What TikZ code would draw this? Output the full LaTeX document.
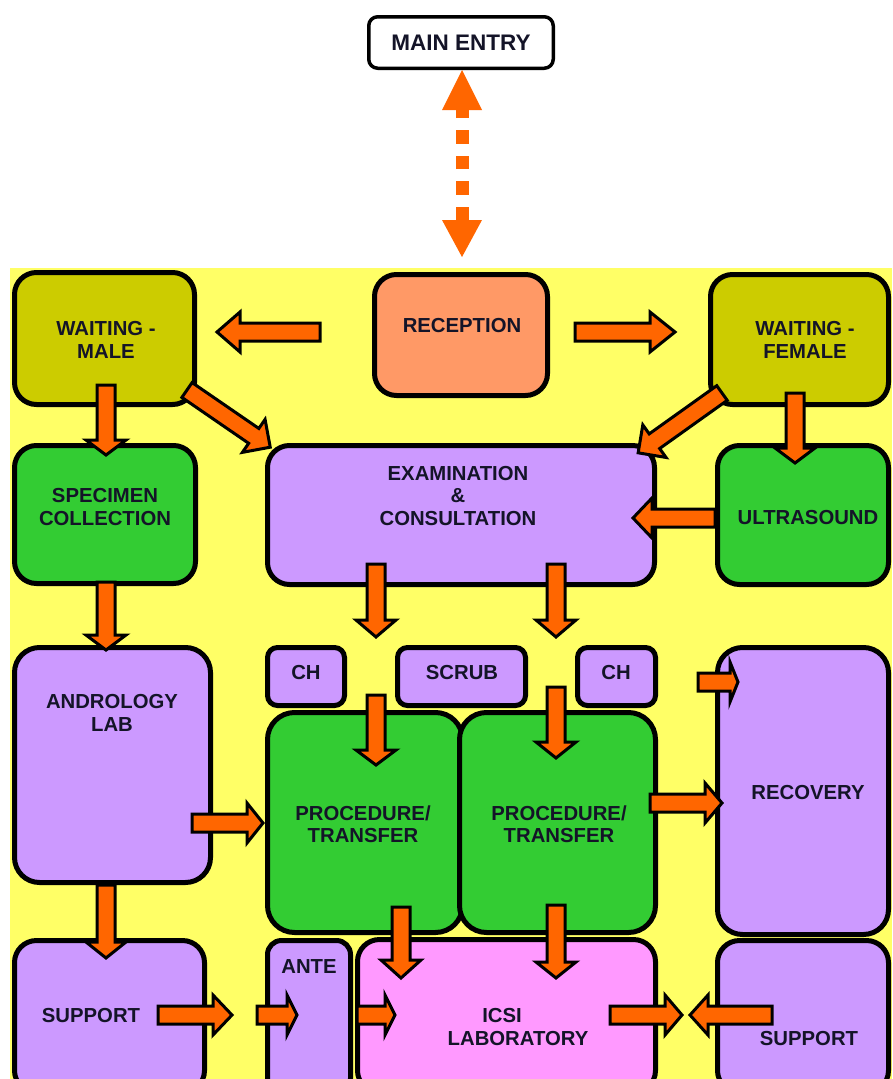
\documentclass[tikz,border=0pt]{standalone}
\usepackage{fontspec}
\setmainfont{Liberation Sans}
\definecolor{yard}{RGB}{255,255,102}
\definecolor{olive}{RGB}{204,204,0}
\definecolor{salmon}{RGB}{255,153,102}
\definecolor{grn}{RGB}{51,204,51}
\definecolor{lav}{RGB}{204,153,255}
\definecolor{pinkroom}{RGB}{255,153,255}
\definecolor{arrowor}{RGB}{255,102,0}
\definecolor{txt}{RGB}{20,20,40}
\tikzset{
  room/.style={draw=black, line width=5pt, inner sep=0pt},
  lbl/.style={font=\bfseries\fontsize{20.3}{22.5}\selectfont, align=center, text=txt, inner sep=0pt},
  blkarrow/.style={draw=black, line width=3pt, fill=arrowor, line join=miter},
  entrybox/.style={draw=black, line width=3.5pt, rounded corners=9pt, fill=white, inner sep=0pt,
     font=\bfseries\fontsize{22.5}{24}\selectfont, text=txt},
}
% \roombox[radius]{name}{fill}{x1}{y1}{x2}{y2}  (outer edges, pixel coords)
\newcommand\roombox[7][22pt]{%
  \node[room, rounded corners=#1, fill=#3, minimum width={(#6)-(#4)-5}, minimum height={(#7)-(#5)-5}]
    (#2) at ({((#4)+(#6))/2},{((#5)+(#7))/2}) {};}
% \blk{x}{y}{angle}{length}{head length}
\newcommand\blk[5]{%
  \begin{scope}[shift={(#1,#2)},rotate=#3]
    \draw[blkarrow] (0,-9) -- ({#4-#5},-9) -- ({#4-#5},-20) -- (#4,0) -- ({#4-#5},20) -- ({#4-#5},9) -- (0,9) -- cycle;
  \end{scope}}
\begin{document}
\begin{tikzpicture}[x=1pt,y=-1pt]
\useasboundingbox (0,0) rectangle (892,1079);
\clip (0,0) rectangle (892,1079);
\fill[white] (0,0) rectangle (892,1079);
\fill[yard] (10,268) rectangle (892,1079);

% main entry
\node[entrybox, minimum width=184.5pt, minimum height=51.5pt] (entry) at (461,42.5) {MAIN ENTRY};
\coordinate (gate) at (462,257);
\fill[arrowor] (442,110) -- (462,70) -- (482,110) -- cycle;
\fill[arrowor] (442,220) -- (gate) -- (482,220) -- cycle;
\draw[arrowor, line width=13pt, dash pattern=on 13.5pt off 12pt] (462,220) -- (462,110);

% rooms
\roombox{wm}{olive}{12}{270}{197}{407}
\roombox{rec}{salmon}{372}{272}{550}{398}
\roombox{wf}{olive}{708}{272}{891}{407}
\roombox{spec}{grn}{12}{443}{198}{586}
\roombox{exam}{lav}{265}{443}{657}{587}
\roombox{us}{grn}{715}{443}{891}{587}
\roombox[25pt]{andr}{lav}{12}{645}{213}{885}
\roombox[10pt]{ch1}{lav}{265}{645}{347}{708}
\roombox[10pt]{scrub}{lav}{395}{645}{528}{708}
\roombox[10pt]{ch2}{lav}{575}{645}{658}{708}
\roombox[27pt]{proc1}{grn}{265}{710}{465}{935}
\roombox[27pt]{proc2}{grn}{457}{710}{658}{935}
\roombox[25pt]{recov}{lav}{715}{645}{891}{937}
\roombox{sup1}{lav}{12}{938}{207}{1095}
\roombox[14pt]{ante}{lav}{265}{938}{353}{1095}
\roombox{icsi}{pinkroom}{355}{937}{658}{1095}
\roombox{sup2}{lav}{715}{938}{891}{1095}

% labels
\node[lbl] (t-wm) at (106,340) {WAITING -\\MALE};
\node[lbl] (t-rec) at (462,326) {RECEPTION};
\node[lbl] (t-wf) at (805,340) {WAITING -\\FEMALE};
\node[lbl] (t-spec) at (105,507) {SPECIMEN\\COLLECTION};
\node[lbl] (t-exam) at (458,496) {EXAMINATION\\\&\\CONSULTATION};
\node[lbl] (t-us) at (808,518) {ULTRASOUND};
\node[lbl] (t-andr) at (112,713) {ANDROLOGY\\LAB};
\node[lbl] (t-ch1) at (306,673) {CH};
\node[lbl] (t-scrub) at (462,673) {SCRUB};
\node[lbl] (t-ch2) at (616,673) {CH};
\node[lbl] (t-p1) at (363,824) {PROCEDURE/\\TRANSFER};
\node[lbl] (t-p2) at (559,824) {PROCEDURE/\\TRANSFER};
\node[lbl] (t-recov) at (808,793) {RECOVERY};
\node[lbl] (t-sup1) at (91,1015) {SUPPORT};
\node[lbl] (t-ante) at (309,967) {ANTE};
\node[lbl] (t-icsi) at (518,1027) {ICSI\hspace*{32pt}\\LABORATORY};
\node[lbl] (t-sup2) at (809,1038) {SUPPORT};

% block arrows
\blk{320}{332}{180}{103}{23}
\blk{575}{332}{0}{100}{25}
\blk{106}{385}{-90}{70}{15}
\blk{187}{390}{-34.5}{101}{20}
\blk{722}{393}{-144.5}{103}{20}
\blk{795}{393}{-90}{70}{15}
\blk{715}{518}{180}{82}{19}
\blk{376}{564}{-90}{73}{17}
\blk{556}{564}{-90}{73}{17}
\blk{376}{695}{-90}{70}{15}
\blk{556}{687}{-90}{71}{16}
\blk{698}{682}{0}{40}{8}
\blk{650}{803}{0}{72}{17}
\blk{192}{823}{0}{71}{16}
\blk{106}{885}{-90}{73}{16}
\blk{106}{582}{-90}{68}{15}
\blk{158}{1015}{0}{74}{19}
\blk{257}{1015}{0}{40}{10}
\blk{357}{1015}{0}{38}{10}
\blk{401}{907}{-90}{71}{18}
\blk{556}{905}{-90}{73}{16}
\blk{610}{1015}{0}{72}{17}
\blk{772}{1015}{180}{82}{18}
\end{tikzpicture}
\end{document}
